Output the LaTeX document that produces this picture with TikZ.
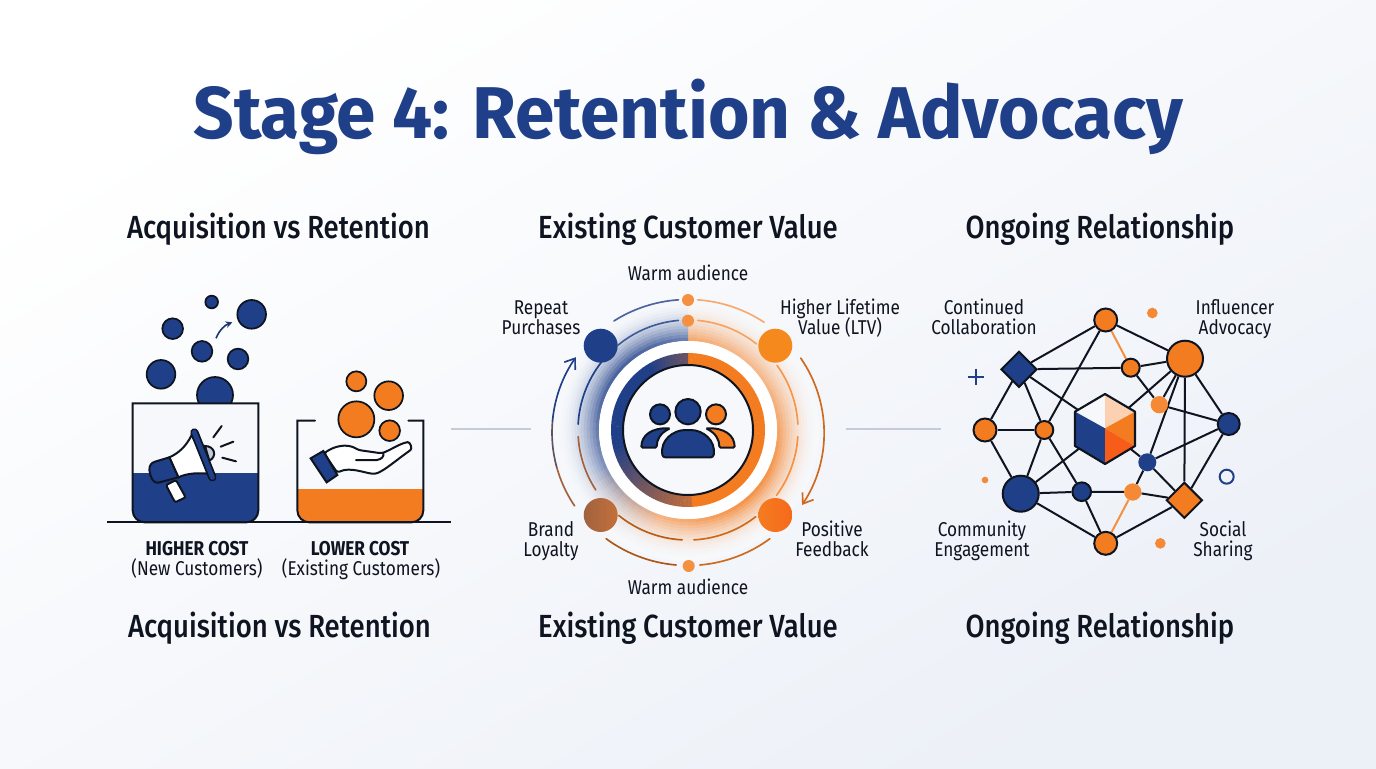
\documentclass[tikz,border=0pt]{standalone}
\usepackage{fontspec}
\usetikzlibrary{arrows.meta,shapes.geometric}
\setmainfont{Fira Sans}[FakeStretch=.86]
\newfontfamily\titlefont{Fira Sans}[FakeStretch=.969,UprightFont=* Bold]
\newfontfamily\headfont{Fira Sans}[FakeStretch=.86,UprightFont=* Medium]
\newfontfamily\capfont{Fira Sans}[FakeStretch=.86,UprightFont=* Bold]
\definecolor{navy}{HTML}{1F3F88}
\definecolor{orng}{HTML}{F47C20}
\definecolor{ink}{HTML}{0E1420}
\definecolor{paper}{HTML}{F6F8FB}
\definecolor{rule}{HTML}{C5CCD8}
\definecolor{bgend}{HTML}{ECF0F7}
\definecolor{tan}{HTML}{A0623F}
\definecolor{tanb}{HTML}{C4703A}
\newcommand\Sr{\rule[-4pt]{0pt}{19pt}}
\pgfdeclarelayer{bgl}
\pgfdeclarelayer{edgelayer}
\pgfsetlayers{bgl,edgelayer,main}
\tikzset{
  maintitle/.style={anchor=base,text=navy,font=\titlefont\fontsize{55pt}{60pt}\selectfont,inner sep=0pt},
  heading/.style={anchor=base,text=ink,font=\headfont\fontsize{24pt}{26pt}\selectfont,inner sep=0pt},
  lab/.style={text=ink,align=center,inner sep=0pt,font=\fontsize{15pt}{15pt}\selectfont},
  caplab/.style={text=ink,inner sep=0pt,font=\capfont\fontsize{15pt}{15pt}\selectfont},
  outl/.style={draw=ink,line width=1.5pt},
  thin arc/.style={line width=1.25pt,line cap=round},
  dot/.style={circle,inner sep=0pt,minimum size=#1,fill=orng!85!white},
  nd/.style n args={2}{circle,inner sep=0pt,minimum size=#1,fill=#2,draw=ink,line width=1.5pt},
  nf/.style n args={2}{circle,inner sep=0pt,minimum size=#1,fill=#2},
  dm/.style={diamond,inner sep=0pt,minimum size=27pt,aspect=1,fill=#1,draw=ink,line width=1.5pt},
  edge/.style={draw=ink,line width=1.5pt},
  oedge/.style={draw=orng!85!white,line width=1.5pt},
}
\begin{document}
\begin{tikzpicture}[x=.75pt,y=-.75pt]
\useasboundingbox (0,0) rectangle (1376,768);
\begin{pgfonlayer}{bgl}
\shade[shading=axis,top color=white,bottom color=bgend,shading angle=30] (0,0) rectangle (1376,768);
\end{pgfonlayer}

% texts
\node[maintitle] (title) at (688.5,138) {Stage 4: Retention \& Advocacy};
\node[heading] (h1) at (278.5,238.5) {Acquisition vs Retention};
\node[heading] (h2) at (688,238.5) {Existing Customer Value};
\node[heading] (h3) at (1100,238.5) {Ongoing Relationship};
\node[heading] (f1) at (279.5,637.5) {Acquisition vs Retention};
\node[heading] (f2) at (688,637.5) {Existing Customer Value};
\node[heading] (f3) at (1100,637.5) {Ongoing Relationship};
\node[caplab] (hc) at (197,548) {\Sr HIGHER COST};
\node[lab] (nc) at (197,568) {\Sr (New Customers)};
\node[caplab] (lc) at (360,548) {\Sr LOWER COST};
\node[lab] (ec) at (361,568) {\Sr (Existing Customers)};
\node[lab] (w1) at (688,273) {\Sr Warm audience};
\node[lab] (w2) at (688,587) {\Sr Warm audience};
\node[lab] (rp1) at (541,307) {\Sr Repeat};
\node[lab] (rp2) at (541,327) {\Sr Purchases};
\node[lab] (hl1) at (840,307) {\Sr Higher Lifetime};
\node[lab] (hl2) at (840,327) {\Sr Value (LTV)};
\node[lab] (bl1) at (551,529) {\Sr Brand};
\node[lab] (bl2) at (551,549) {\Sr Loyalty};
\node[lab] (pf1) at (832,529) {\Sr Positive};
\node[lab] (pf2) at (832,549) {\Sr Feedback};
\node[lab] (cc1) at (984,307) {\Sr Continued};
\node[lab] (cc2) at (984,327) {\Sr Collaboration};
\node[lab] (ia1) at (1235,307) {\Sr Influencer};
\node[lab] (ia2) at (1235,327) {\Sr Advocacy};
\node[lab] (ce1) at (982,529) {\Sr Community};
\node[lab] (ce2) at (982,549) {\Sr Engagement};
\node[lab] (ss1) at (1223,529) {\Sr Social};
\node[lab] (ss2) at (1223,549) {\Sr Sharing};

% separators
\coordinate (s1a) at (451,429); \coordinate (s1b) at (531,429);
\coordinate (s2a) at (846,429); \coordinate (s2b) at (941,429);
\draw[rule,line width=1pt] (s1a) -- (s1b);
\draw[rule,line width=1pt] (s2a) -- (s2b);

% LEFT PANEL, coordinates of the 3x crop
\coordinate (base a) at (107.3,522); \coordinate (base b) at (451,522);
\begin{scope}[shift={(100,280)},x=.25pt,y=-.25pt]
  \foreach \p/\q/\r in {335/66/19,455/103/43,218/146/31,306/214/31,414/237/31,183/283/43,345/345/54}
    \draw[fill=navy,draw=ink,line width=1.3pt] (\p,\q) circle[radius=\r];
  \fill[paper] (98,371) rectangle (475,727);
  \fill[navy] (98,578) rectangle (475,700);
  \fill[navy,rounded corners=9pt] (98,640) -- (98,727) -- (475,727) -- (475,640) -- cycle;
  \draw[outl,rounded corners=9pt] (98,370) [sharp corners] -- (98,650) [rounded corners=9pt] -- (98,727) -- (475,727) -- (475,650) [sharp corners] -- (475,370) -- cycle;
  \draw[navy!80!ink,line width=1.2pt,-{Stealth[length=5pt,width=5pt]}] (348,175) .. controls (358,150) and (375,135) .. (397,127);
  % megaphone
  \draw[outl,fill=white,rounded corners=1.5pt] (198,615) -- (225,667) -- (257,652) -- (228,600) -- cycle;
  \draw[outl,fill=rule] (315,498) .. controls (345,498) and (352,530) .. (328,542) -- cycle;
  \draw[outl,fill=white] (208,532) .. controls (235,520) and (258,500) .. (275,465) -- (335,582) .. controls (300,578) and (265,578) .. (235,592) -- cycle;
  \draw[outl,fill=navy] (208,532) -- (235,592) -- (175,608) .. controls (160,612) and (150,590) .. (148,570) .. controls (148,555) and (155,548) .. (165,545) -- cycle;
  \draw[ink,line width=6.2pt,line cap=round] (283,457) -- (337,592);
  \draw[navy,line width=3.6pt,line cap=round] (283,457) -- (337,592);
  \draw[outl,line cap=round] (340,472) -- (365,438);
  \draw[outl,line cap=round] (362,500) -- (400,485);
  \draw[outl,line cap=round] (367,533) -- (408,544);
  % right beaker
  \foreach \p/\q/\r in {769/304/30,866/347/43,769/418/54,869/452/31}
    \draw[fill=orng,draw=ink,line width=1.3pt] (\p,\q) circle[radius=\r];
  \fill[orng] (592,626) rectangle (970,700);
  \fill[orng,rounded corners=9pt] (592,650) -- (592,727) -- (970,727) -- (970,650) -- cycle;
  \draw[outl,line cap=round,rounded corners=9pt] (645,422) [sharp corners] -- (592,422) -- (592,650) [rounded corners=9pt] -- (592,727) -- (970,727) -- (970,650) [sharp corners] -- (970,422) -- (925,422);
  % hand
  \draw[outl,fill=white,rounded corners=2pt] (672,520) .. controls (700,500) and (740,488) .. (775,510) -- (845,520) .. controls (870,510) and (895,495) .. (915,488) .. controls (930,485) and (938,505) .. (925,515) .. controls (890,540) and (855,570) .. (825,582) .. controls (790,578) and (750,560) .. (712,578) -- cycle;
  \draw[outl,line cap=round] (768,540) -- (830,540) .. controls (845,538) and (852,530) .. (850,520);
  \draw[outl,fill=navy] (632,535) -- (670,513) -- (712,585) -- (680,607) -- cycle;
\end{scope}
\draw[ink,line width=1.6pt] (base a) -- (base b);

% CENTRE PANEL
\begin{scope}[shift={(688,430)},y=.75pt]
  \foreach \r in {128,125,...,89}{
    \foreach \a in {0,5,...,355}{
      \pgfmathsetmacro\m{\a<90?0:(\a<=200?100:(\a<250?(250-\a)*2:0))}
      \pgfmathsetmacro\t{(\r-89)/39}
      \pgfmathsetmacro\p{(65+15*cos(2*(\a-135)))*(1-\t)*(1-\t)}
      \colorlet{gc}{navy!\m!orng}
      \fill[gc!\p!paper] (\a:\r) -- ({\a+5.4}:\r) -- ({\a+5.4}:\r+3.4) -- (\a:\r+3.4) -- cycle;
    }
  }
  \fill[white] (0,0) circle[radius=89];
  \foreach \a in {0,3,...,357}{
    \pgfmathsetmacro\m{\a<90?0:(\a<=120?65+(\a-90)*35/30:(\a<=190?100:(\a<=270?100-(\a-190)*75/80:0)))}
    \colorlet{gc}{navy!\m!orng}
    \fill[gc] (\a:65) -- ({\a+3.3}:65) -- ({\a+3.3}:77) -- (\a:77) -- cycle;
  }
  \draw[fill=paper,draw=ink,line width=1.5pt] (0,0) circle[radius=65];
  % inner arcs
  \foreach \s/\e/\c in {95/129.5/navy!85!white,85/51.5/orng!70!white,36/3/orng!80!white,-3.5/-36.5/orng!85!white,-52/-87/orng!85!black,-93/-129/orng!75!black,213/183.5/tan,177/142/navy}
    \draw[\c,thin arc] (\s:110) arc[start angle=\s,end angle=\e,radius=110];
  % outer arcs
  \begin{scope}[shift={(0,-2.5)}]
  \foreach \s/\e/\c in {94/123/navy!80!white,86/56/orng!65!white,-53/-85/orng!85!black,-95/-127/orng!70!black,213.5/195/tan,195/175/navy!50!tan}
    \draw[\c,thin arc] (\s:136 and 133) arc[start angle=\s,end angle=\e,x radius=136,y radius=133];
  \draw[orng!85!black,thin arc,-{Straight Barb[length=7pt,width=10pt]}] (34:136 and 133) arc[start angle=34,end angle=-33,x radius=136,y radius=133];
  \draw[navy,thin arc,-{Straight Barb[length=7pt,width=10pt]}] (175:136 and 133) arc[start angle=175,end angle=145.5,x radius=136,y radius=133];
  \end{scope}
\end{scope}
\node[dot=9pt] (d1) at (688,300) {};
\node[dot=9pt] (d2) at (688,320.7) {};
\node[dot=9pt] (d3) at (688.7,566) {};
\node[circle,inner sep=0pt,minimum size=25.5pt,fill=navy] (n1) at (600.7,345.7) {};
\node[circle,inner sep=0pt,minimum size=25.5pt,fill=orng!90!yellow] (n2) at (775.3,345.7) {};
\node[circle,inner sep=0pt,minimum size=25.5pt,left color=tan,right color=tanb] (n3) at (600.7,515) {};
\node[circle,inner sep=0pt,minimum size=25.5pt,left color=orng,right color=orng!85!red] (n4) at (775.3,515) {};
% people icon
\begin{scope}[shift={(500,260)},x=.25pt,y=-.25pt]
  \draw[outl,fill=navy] (480,463) circle[radius=30];
  \draw[outl,fill=orng] (648,463) circle[radius=30];
  \draw[outl,fill=navy,rounded corners=1pt] (424,563) .. controls (425,525) and (455,503) .. (510,505) .. controls (480,520) and (470,540) .. (470,563) -- cycle;
  \draw[outl,fill=orng,rounded corners=1pt] (704,563) .. controls (703,525) and (673,503) .. (618,505) .. controls (648,520) and (658,540) .. (658,563) -- cycle;
  \draw[outl,fill=navy] (564,455) circle[radius=38];
  \draw[outl,fill=navy,rounded corners=2pt] (488,592) .. controls (480,540) and (520,510) .. (564,510) .. controls (608,510) and (648,540) .. (640,592) -- cycle;
\end{scope}

% RIGHT PANEL network
\node[nd={17.25pt}{orng}] (T) at (1105.7,320) {};
\node[nd={27pt}{orng}] (I) at (1185,358.7) {};
\node[nd={13.5pt}{orng}] (A) at (1130.7,367.7) {};
\node[dm=navy] (D1) at (1019,369.3) {};
\node[nf={13pt}{orng!90!white}] (O2) at (1159.3,404.7) {};
\node[nd={16.5pt}{navy}] (B1) at (1228.7,424) {};
\node[nd={17.25pt}{orng}] (L) at (985,430) {};
\node[nd={13.5pt}{orng}] (O3) at (1044.3,430) {};
\node[regular polygon,regular polygon sides=6,minimum size=53pt,inner sep=0pt] (X) at (1105,428.5) {};
\node[nf={13.5pt}{navy}] (B2) at (1147.3,462.3) {};
\node[nd={27pt}{navy}] (C) at (1020.7,493.7) {};
\node[nd={14pt}{navy}] (B3) at (1081.7,491.7) {};
\node[nf={13pt}{orng!90!white}] (O4) at (1132.7,492) {};
\node[dm=orng] (D2) at (1184.3,500.3) {};
\node[nd={17.25pt}{orng}] (Bo) at (1105.7,543.3) {};
\begin{pgfonlayer}{edgelayer}
  \foreach \u/\v in {T/D1,T/I,T/O3,D1/A,A/I,A/O2,D1/L,D1/O3,D1/X,L/O3,L/C,O3/C,O3/B3,X/C,X/I,X/B2,I/O2,I/B1,I/D2,I/B2,O2/B1,B1/B2,B1/D2,B2/D2,B2/O4,O4/D2,O4/B3,B3/C,B3/Bo,C/Bo,Bo/D2}
    \draw[edge] (\u) -- (\v);
  \draw[oedge] (T) -- (A);
  \draw[oedge] (O4) -- (Bo);
\end{pgfonlayer}
% hexagon faces, crop coordinates
\begin{scope}[shift={(930,290)},x=.25pt,y=-.25pt]
  \fill[paper] (435,365) -- (525,312) -- (525,415) -- cycle;
  \fill[orng!35!white] (525,312) -- (615,365) -- (525,415) -- cycle;
  \fill[navy] (435,365) -- (525,415) -- (525,522) -- (435,468) -- cycle;
  \fill[orng] (525,415) -- (615,365) -- (615,468) -- cycle;
  \fill[orng!75!red] (525,415) -- (615,468) -- (525,522) -- cycle;
  \draw[ink,line width=1.6pt,line join=round] (525,312) -- (615,365) -- (615,468) -- (525,522) -- (435,468) -- (435,365) -- cycle;
  % loose decorations
  \fill[orng!90!white] (667,69) circle[radius=16];
  \fill[orng!90!white] (165,570) circle[radius=10];
  \fill[orng!90!white] (691,760) circle[radius=16];
  \draw[navy,line width=1.4pt] (114,260) -- (162,260) (138,236) -- (138,284);
  \draw[navy,line width=1.5pt] (890,560) circle[radius=21];
\end{scope}
\end{tikzpicture}
\end{document}
